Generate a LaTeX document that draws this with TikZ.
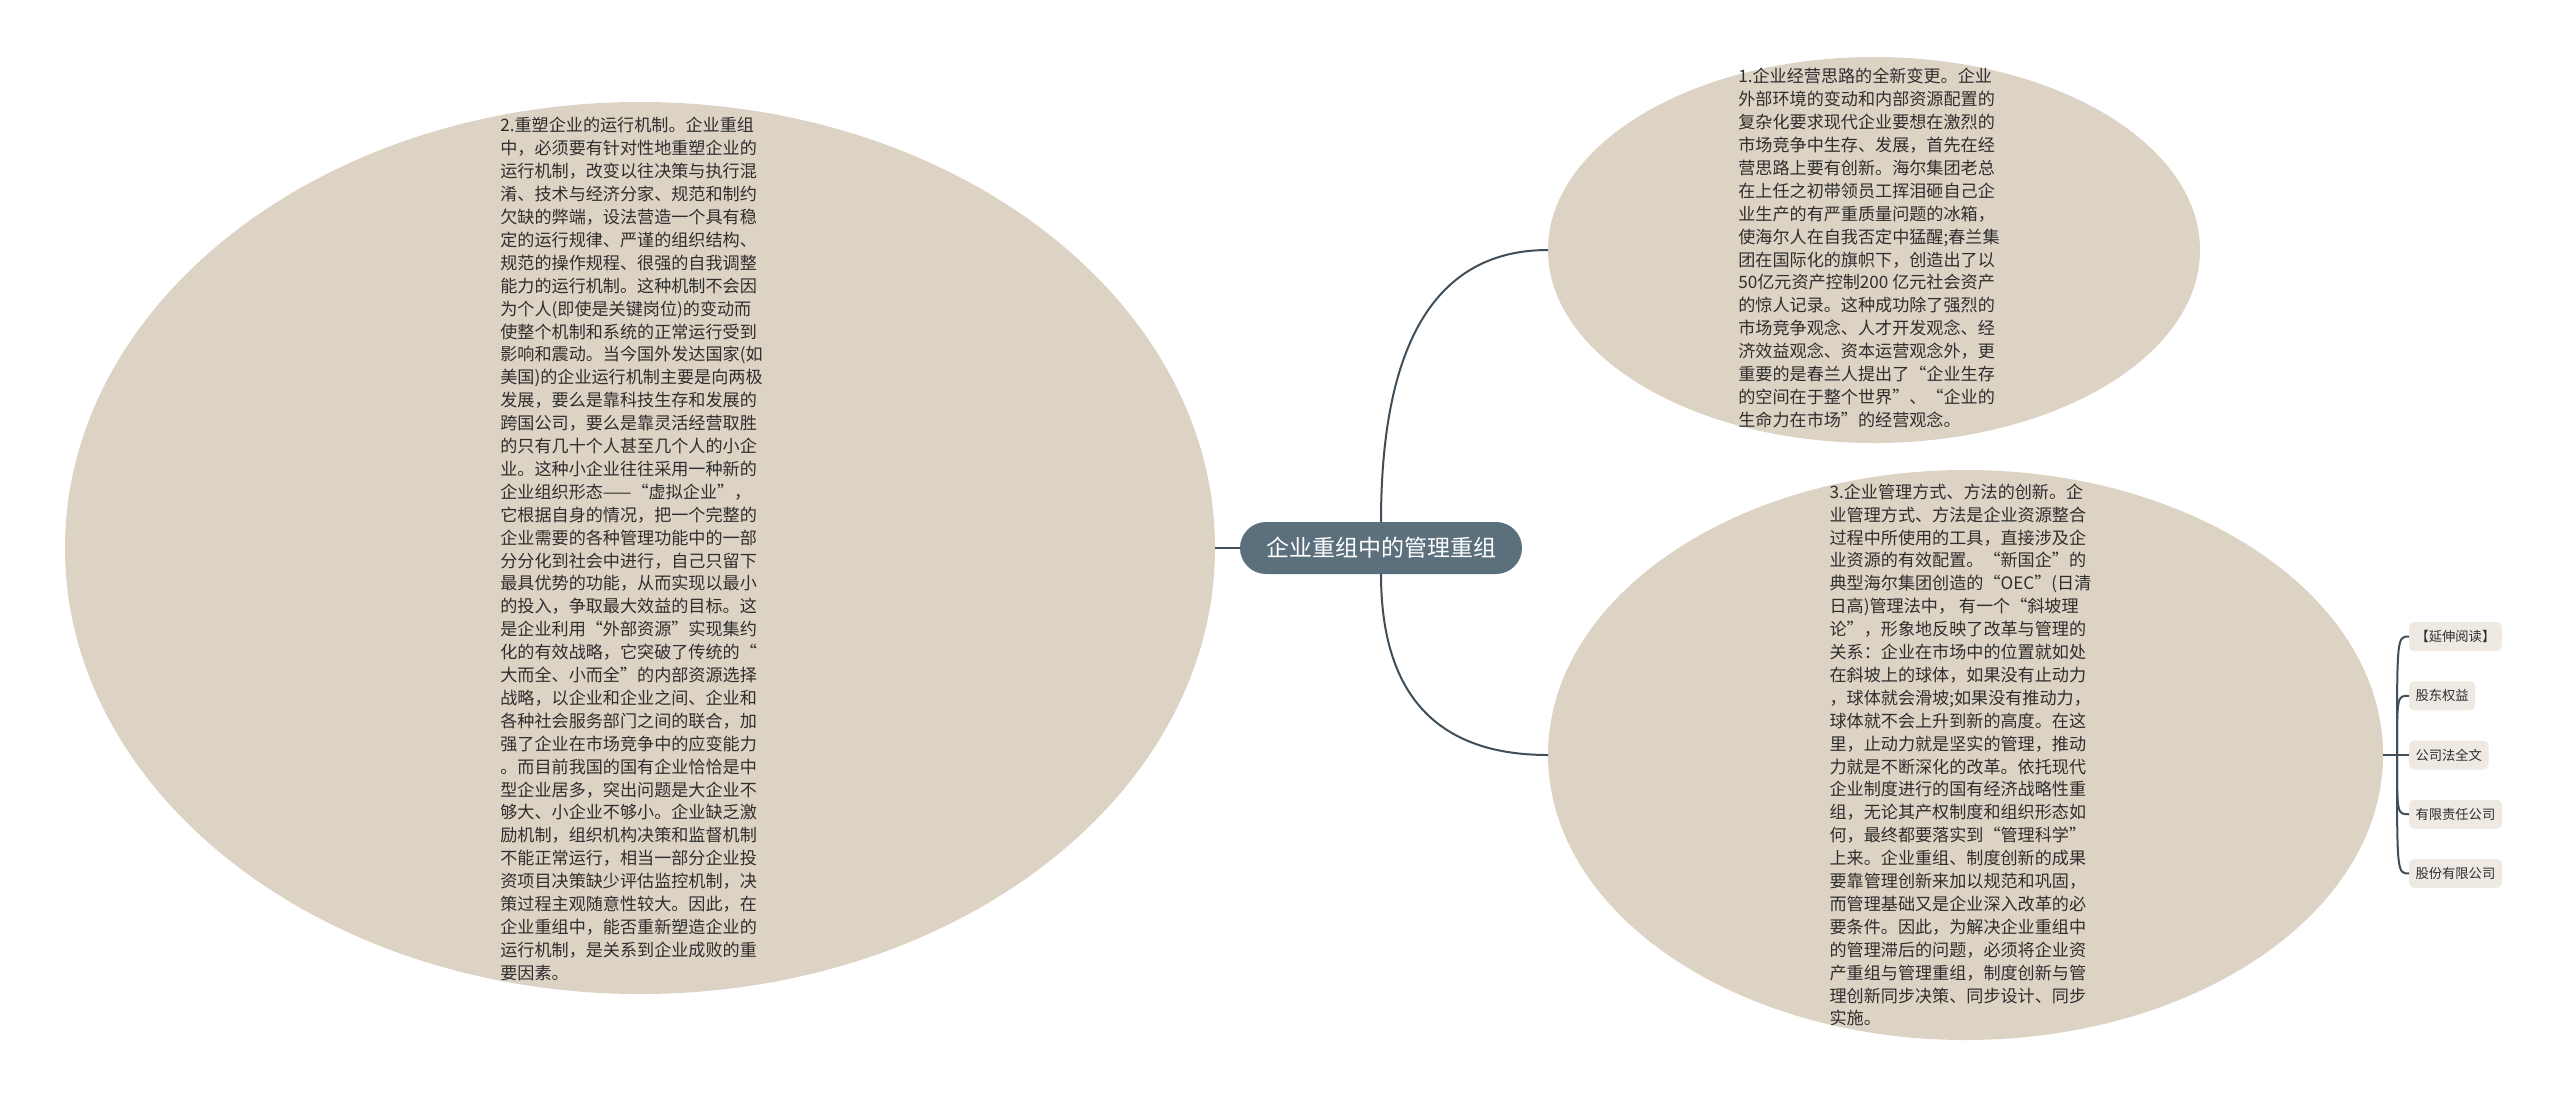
\documentclass[tikz,border=0pt]{standalone}
\usepackage{fontspec}
\setmainfont{Noto Sans CJK SC}
\usetikzlibrary{shapes.geometric}
\definecolor{bubblefill}{HTML}{DDD3C4}
\definecolor{leaffill}{HTML}{EEEAE3}
\definecolor{rootfill}{HTML}{5C6F7C}
\definecolor{linkcol}{HTML}{3F4E58}
\definecolor{txtcol}{HTML}{2E2E2E}
\begin{document}
\begin{tikzpicture}[x=1pt,y=-1pt,
 bubble/.style={ellipse, fill=bubblefill, draw=none, inner sep=0pt, outer sep=0pt},
 bodytext/.style={align=left, text=txtcol, inner sep=0pt, font=\fontsize{17.1}{22.9}\selectfont},
 rootbox/.style={rectangle, rounded corners=26pt, fill=rootfill, text=white, minimum width=282pt, minimum height=52pt, inner sep=0pt, outer sep=0pt, font=\fontsize{23}{28}\selectfont},
 leafbox/.style={rectangle, rounded corners=5pt, fill=leaffill, text=txtcol, minimum height=29pt, inner xsep=6.5pt, inner ysep=0pt, outer sep=0pt, anchor=west, font=\fontsize{13.3}{16}\selectfont},
 link/.style={draw=linkcol, line width=2pt}
]
\useasboundingbox (0,0) rectangle (2560,1096);
\fill[white] (0,0) rectangle (2560,1096);

% bubbles
\node[bubble, minimum width=1150pt, minimum height=892pt] (e2) at (640,548) {};
\node[bubble, minimum width=652pt, minimum height=386pt] (e1) at (1874,250) {};
\node[bubble, minimum width=835pt, minimum height=570pt] (e3) at (1965.5,755) {};

% root
\node[rootbox] (root) at (1381,548) {企业重组中的管理重组};

% leaves
\coordinate (jn) at (2397,755);
\node[leafbox] (l1) at (2409,636.5) {【延伸阅读】};
\node[leafbox] (l2) at (2409,695.75) {股东权益};
\node[leafbox] (l3) at (2409,755) {公司法全文};
\node[leafbox] (l4) at (2409,814.25) {有限责任公司};
\node[leafbox] (l5) at (2409,873.5) {股份有限公司};

% connectors
\draw[link] (e2.east) -- (root.west);
\draw[link] (root.north) .. controls +(0,-181) and +(-111,0) .. (e1.west);
\draw[link] (root.south) .. controls +(0,121) and +(-111,0) .. (e3.west);
\draw[link] (e3.east) -- (jn) -- (l3.west);
\draw[link] (jn) .. controls (jn |- l1.west) .. (l1.west);
\draw[link] (jn) .. controls (jn |- l2.west) .. (l2.west);
\draw[link] (jn) .. controls (jn |- l4.west) .. (l4.west);
\draw[link] (jn) .. controls (jn |- l5.west) .. (l5.west);

% texts
\node[bodytext] (t2) at (631.5,549) {2.重塑企业的运行机制。企业重组\\
中，必须要有针对性地重塑企业的\\
运行机制，改变以往决策与执行混\\
淆、技术与经济分家、规范和制约\\
欠缺的弊端，设法营造一个具有稳\\
定的运行规律、严谨的组织结构、\\
规范的操作规程、很强的自我调整\\
能力的运行机制。这种机制不会因\\
为个人(即使是关键岗位)的变动而\\
使整个机制和系统的正常运行受到\\
影响和震动。当今国外发达国家(如\\
美国)的企业运行机制主要是向两极\\
发展，要么是靠科技生存和发展的\\
跨国公司，要么是靠灵活经营取胜\\
的只有几十个人甚至几个人的小企\\
业。这种小企业往往采用一种新的\\
企业组织形态——“虚拟企业”，\\
它根据自身的情况，把一个完整的\\
企业需要的各种管理功能中的一部\\
分分化到社会中进行，自己只留下\\
最具优势的功能，从而实现以最小\\
的投入，争取最大效益的目标。这\\
是企业利用“外部资源”实现集约\\
化的有效战略，它突破了传统的“\\
大而全、小而全”的内部资源选择\\
战略，以企业和企业之间、企业和\\
各种社会服务部门之间的联合，加\\
强了企业在市场竞争中的应变能力\\
。而目前我国的国有企业恰恰是中\\
型企业居多，突出问题是大企业不\\
够大、小企业不够小。企业缺乏激\\
励机制，组织机构决策和监督机制\\
不能正常运行，相当一部分企业投\\
资项目决策缺少评估监控机制，决\\
策过程主观随意性较大。因此，在\\
企业重组中，能否重新塑造企业的\\
运行机制，是关系到企业成败的重\\
要因素。};

\node[bodytext] (t1) at (1869,248) {1.企业经营思路的全新变更。企业\\
外部环境的变动和内部资源配置的\\
复杂化要求现代企业要想在激烈的\\
市场竞争中生存、发展，首先在经\\
营思路上要有创新。海尔集团老总\\
在上任之初带领员工挥泪砸自己企\\
业生产的有严重质量问题的冰箱，\\
使海尔人在自我否定中猛醒;春兰集\\
团在国际化的旗帜下，创造出了以\\
50亿元资产控制200 亿元社会资产\\
的惊人记录。这种成功除了强烈的\\
市场竞争观念、人才开发观念、经\\
济效益观念、资本运营观念外，更\\
重要的是春兰人提出了“企业生存\\
的空间在于整个世界”、“企业的\\
生命力在市场”的经营观念。};

\node[bodytext] (t3) at (1960.5,755) {3.企业管理方式、方法的创新。企\\
业管理方式、方法是企业资源整合\\
过程中所使用的工具，直接涉及企\\
业资源的有效配置。“新国企”的\\
典型海尔集团创造的“OEC”(日清\\
日高)管理法中， 有一个“斜坡理\\
论”，形象地反映了改革与管理的\\
关系：企业在市场中的位置就如处\\
在斜坡上的球体，如果没有止动力\\
，球体就会滑坡;如果没有推动力，\\
球体就不会上升到新的高度。在这\\
里，止动力就是坚实的管理，推动\\
力就是不断深化的改革。依托现代\\
企业制度进行的国有经济战略性重\\
组，无论其产权制度和组织形态如\\
何，最终都要落实到“管理科学”\\
上来。企业重组、制度创新的成果\\
要靠管理创新来加以规范和巩固，\\
而管理基础又是企业深入改革的必\\
要条件。因此，为解决企业重组中\\
的管理滞后的问题，必须将企业资\\
产重组与管理重组，制度创新与管\\
理创新同步决策、同步设计、同步\\
实施。};
\end{tikzpicture}
\end{document}
